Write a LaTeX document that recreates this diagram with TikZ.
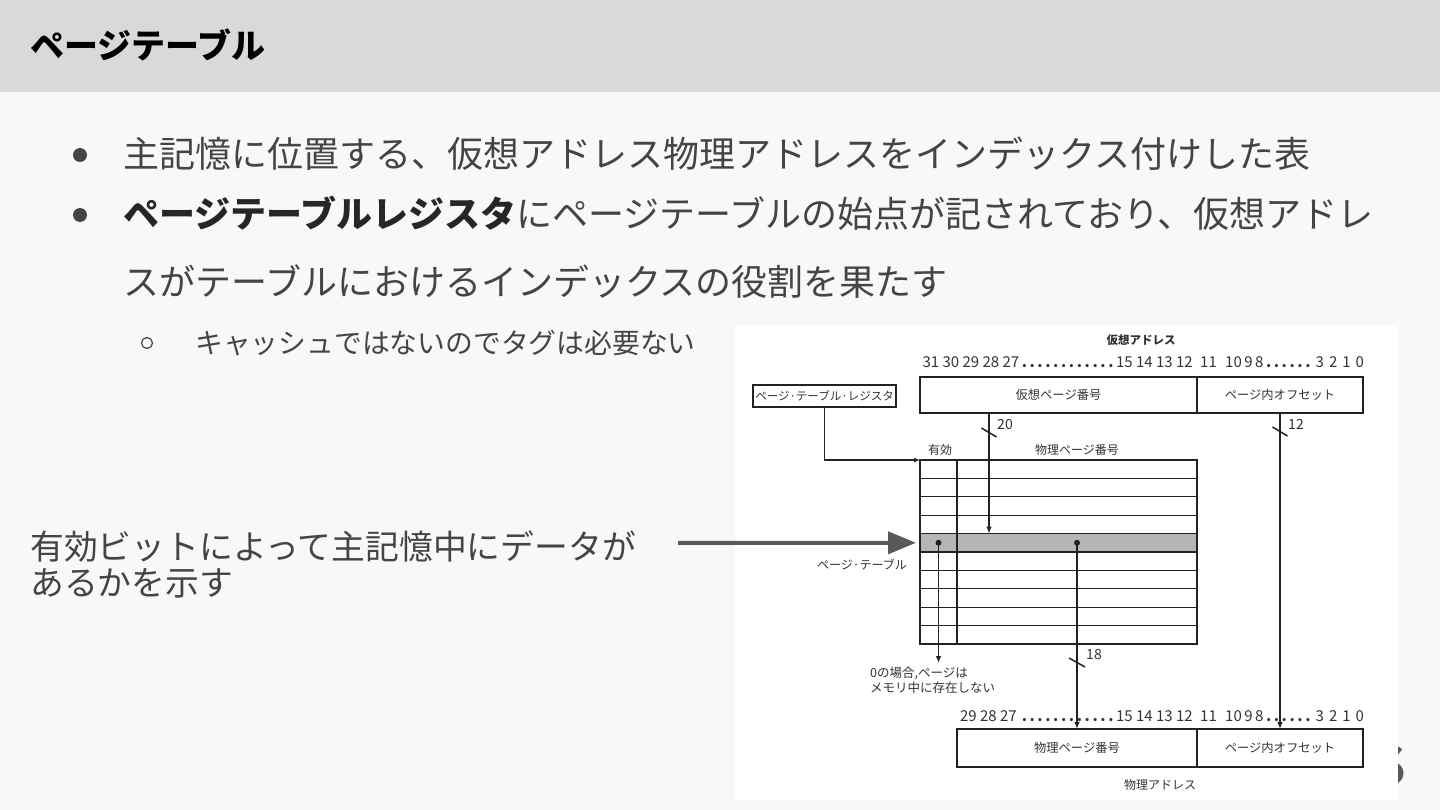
\documentclass[tikz,border=0pt]{standalone}
\usepackage{fontspec}
\setmainfont{Noto Sans CJK JP}
\usetikzlibrary{arrows.meta,calc}
\definecolor{hdr}{HTML}{D9D9D9}
\definecolor{bg}{HTML}{F8F8F8}
\definecolor{txt}{HTML}{444444}
\definecolor{dtxt}{HTML}{333333}
\definecolor{lc}{HTML}{222222}
\definecolor{hl}{HTML}{B5B5B5}
\definecolor{arrg}{HTML}{595959}
\newcommand\bitdot{\textbf{.}\kern2.6pt}
\newcommand\bitdots[1]{\foreach \k in {1,...,#1}{\bitdot}}
\begin{document}
\begin{tikzpicture}[x=1pt,y=-1pt,
  tx/.style={anchor=base west, inner sep=0, text=txt},
  box/.style={draw=lc, line width=1.3pt, fill=white, inner sep=0, outer sep=0, anchor=north west, text=dtxt, font=\fontsize{12.3}{14}\selectfont},
  cell/.style={draw=lc, line width=1.2pt, inner sep=0, outer sep=0, anchor=north west, minimum height=18.4pt},
  lbl/.style={inner sep=0, text=dtxt, font=\fontsize{12}{15}\selectfont},
  num/.style={inner sep=0, text=dtxt, font=\fontsize{14}{16}\selectfont},
  bits/.style={inner sep=0, text=dtxt, font=\fontsize{15}{17}\selectfont},
  arr/.style={draw=lc, line width=1.8pt, -{Latex[length=7pt,width=5.5pt]}},
  thinarr/.style={draw=lc, line width=1.2pt, -{Latex[length=6pt,width=5pt]}},
  tickm/.style={draw=lc, line width=1.5pt},
  garr/.style={draw=arrg, line width=4pt, -{Triangle[length=28pt,width=22pt]}, shorten >=4pt}
]
\useasboundingbox (0,0) rectangle (1440,810);
\fill[bg] (0,0) rectangle (1440,810);
\fill[hdr] (0,0) rectangle (1440,92);

% title
\node[tx, text=black, font=\fontsize{34}{40}\selectfont\bfseries] (title) at (30,58.5) {ページテーブル};

% bullets
\fill[txt] (80,155) circle (7pt);
\fill[txt] (80,215) circle (7pt);
\draw[txt, line width=1.2pt] (147,343) circle (5.5pt);
\node[tx, font=\fontsize{36}{42}\selectfont] (b1) at (123,168) {主記憶に位置する、仮想アドレス物理アドレスをインデックス付けした表};
\node[tx, font=\fontsize{36}{42}\selectfont] (b2) at (123,228) {\textbf{\color{black!85}ページテーブルレジスタ}にページテーブルの始点が記されており、仮想アドレ};
\node[tx, font=\fontsize{36}{42}\selectfont] (b3) at (123,295) {スがテーブルにおけるインデックスの役割を果たす};
\node[tx, font=\fontsize{27.8}{32}\selectfont] (s1) at (195,353) {キャッシュではないのでタグは必要ない};

% left note
\node[tx, font=\fontsize{33.8}{38}\selectfont] (n1) at (30,559.5) {有効ビットによって主記憶中にデータが};
\node[tx, font=\fontsize{33.8}{38}\selectfont] (n2) at (30,595.5) {あるかを示す};

% logo fragment behind figure
\node[anchor=east, inner sep=0, text=arrg, font=\fontsize{54}{60}\selectfont\bfseries] (logo) at (1406,765) {S};

% figure background
\fill[white] (735,325) rectangle (1398,800);

% virtual address
\node[lbl, font=\fontsize{11.5}{14}\selectfont\bfseries] (vat) at (1141,340) {仮想アドレス};
\node[bits, anchor=east] (vb1) at (1193,362) {31 30 29 28 27\,\bitdots{12}15 14 13 12};
\node[bits, anchor=west] (vb2) at (1200,362) {11\,\, 10\,9\,8\,\bitdots{6}\,3\,\,2\,\,1\,\,0};
\node[box, minimum width=277pt, minimum height=36pt] (vpn) at (920,377) {仮想ページ番号};
\node[box, minimum width=166pt, minimum height=36pt] (voff) at (1197,377) {ページ内オフセット};

% register
\node[box, minimum width=143pt, minimum height=22pt, font=\fontsize{11.5}{14}\selectfont] (reg) at (753,385) {ページ·テーブル·レジスタ};

% page table
\node[lbl] (yuko) at (940,450) {有効};
\node[lbl] (ppnl) at (1077,450) {物理ページ番号};
\foreach \i/\c in {1/white,2/white,3/white,4/white,5/hl,6/white,7/white,8/white,9/white,10/white}{
  \node[cell, fill=\c, minimum width=37pt] (v\i) at (920,{460+18.4*(\i-1)}) {};
  \node[cell, fill=\c, minimum width=240pt] (p\i) at (957,{460+18.4*(\i-1)}) {};
}
\node[lbl] (ptl) at (862,565) {ページ·テーブル};

% physical address
\node[bits, anchor=east] (pb1) at (1193,716) {29 28 27\,\,\bitdots{12}15 14 13 12};
\node[bits, anchor=west] (pb2) at (1200,716) {11\,\, 10\,9\,8\,\bitdots{6}\,3\,\,2\,\,1\,\,0};
\node[box, minimum width=240pt, minimum height=38pt] (ppn) at (957,729) {物理ページ番号};
\node[box, minimum width=166pt, minimum height=38pt] (poff) at (1197,729) {ページ内オフセット};
\node[lbl] (pat) at (1160,785) {物理アドレス};

% connectors
\draw[thinarr] (reg.south) |- (v1.north west);
\draw[arr] ([xshift=69pt]vpn.south west) -- ([xshift=32pt]p5.north west);
\draw[arr] (voff.south) -- (poff.north);
\coordinate (zeroend) at (938.5,663);
\draw[arr] (v5.center) -- (zeroend);
\draw[arr] (p5.center) -- (ppn.north);
\fill[lc] (v5.center) circle (3pt);
\fill[lc] (p5.center) circle (3pt);

% bus width ticks
\draw[tickm] (981.5,428) -- (996.5,437);
\node[num] (l20) at (1005,425) {20};
\draw[tickm] (1272.5,427) -- (1287.5,436);
\node[num] (l12) at (1296,424) {12};
\draw[tickm] (1069,658) -- (1085,667);
\node[num] (l18) at (1094,655) {18};

\node[lbl, anchor=north west, align=left, font=\fontsize{12.5}{15}\selectfont] (zero) at (870,667) {0の場合,ページは\\メモリ中に存在しない};

% big gray arrow
\coordinate (gstart) at (678,543);
\draw[garr] (gstart) -- (v5.west);
\end{tikzpicture}
\end{document}
